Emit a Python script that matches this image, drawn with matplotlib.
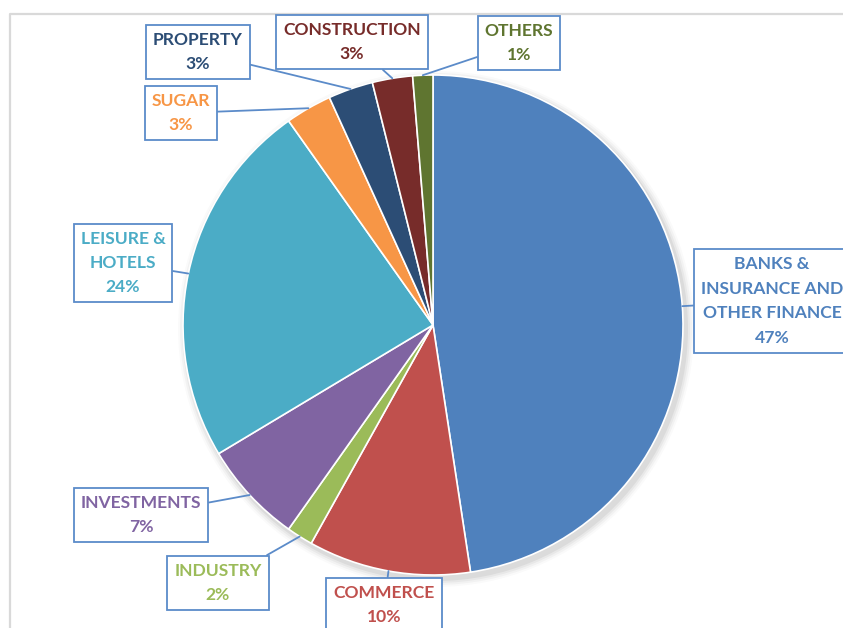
import numpy as np
import matplotlib.pyplot as plt
from matplotlib.patches import Circle

# sector shares (%), read clockwise from 12 o'clock
sectors = ['BANKS &\nINSURANCE AND\nOTHER FINANCE', 'COMMERCE', 'INDUSTRY', 'INVESTMENTS',
           'LEISURE &\nHOTELS', 'SUGAR', 'PROPERTY', 'CONSTRUCTION', 'OTHERS']
shares = [47.6, 10.5, 1.7, 6.6, 23.8, 3.0, 2.9, 2.6, 1.3]
pct_labels = ['47%', '10%', '2%', '7%', '24%', '3%', '3%', '3%', '1%']
colors = ['#4F81BD', '#C0504D', '#9BBB59', '#8064A2', '#4BACC6',
          '#F79646', '#2C4D75', '#772C2A', '#5F7530']

W, H = 843, 628
cx, cy, r = 433, H - 325, 250
# label box centres in pixels (x, y from top)
label_pos = [(772, 301), (384, 605), (218, 583), (141, 515), (123, 263),
             (181, 113), (198, 52), (352, 42), (519, 43)]

fig = plt.figure(figsize=(W / 100, H / 100), dpi=100)
ax = fig.add_axes([0, 0, 1, 1])

# chart frame (only top and left visible)
ax.plot([10, 10, W], [0, H - 14, H - 14], color='#D9D9D9', lw=1.6, zorder=0)

# soft shadow
for i, a in enumerate([0.05, 0.04, 0.03, 0.02]):
    ax.add_patch(Circle((cx + 3, cy - 4), r + 2 + i * 2, color='black', alpha=a, lw=0, zorder=1))

wedges, _ = ax.pie(shares, colors=colors, startangle=90, counterclock=False,
                   center=(cx, cy), radius=r, frame=True,
                   wedgeprops=dict(edgecolor='white', linewidth=1.2, zorder=2))
ax.set_xlim(0, W)
ax.set_ylim(0, H)
ax.axis('off')

for w, name, pct, tc, (px, py) in zip(wedges, sectors, pct_labels, colors, label_pos):
    ang = np.deg2rad((w.theta1 + w.theta2) / 2)
    ex, ey = cx + r * np.cos(ang), cy + r * np.sin(ang)
    ax.annotate(name + '\n' + pct, xy=(ex, ey), xytext=(px, H - py),
                ha='center', va='center', fontsize=12.6, fontweight='bold',
                family='Lato', color=tc, linespacing=1.65, zorder=5,
                bbox=dict(boxstyle='square,pad=0.4', fc='white', ec='#5B8BC9', lw=1.3),
                arrowprops=dict(arrowstyle='-', color='#5B8BC9', lw=1.3,
                                shrinkA=0, shrinkB=0))

fig.savefig('out.png', dpi=100)
